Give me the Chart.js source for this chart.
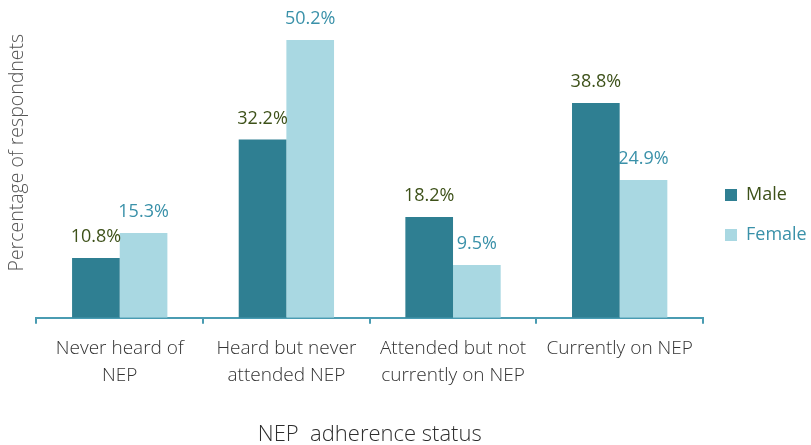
<!DOCTYPE html>
<html>
<head>
<meta charset="utf-8">
<script src="https://cdn.jsdelivr.net/npm/chart.js@4"></script>
<style>
  html, body { margin: 0; padding: 0; background: #fff; }
  #wrap { width: 811px; height: 445px; }
</style>
</head>
<body>
<div id="wrap"><canvas id="nepChart"></canvas></div>
<script>
// Data
const categories = [
    ['Never heard of', 'NEP'],
    ['Heard but never', 'attended NEP'],
    ['Attended but not', 'currently on NEP'],
    ['Currently on NEP']
];
const maleValues = [10.8, 32.2, 18.2, 38.8];
const femaleValues = [15.3, 50.2, 9.5, 24.9];
const seriesNames = ['Male', 'Female'];

const MALE_COLOR = '#2f7f92';
const FEMALE_COLOR = '#a9d8e2';
const MALE_TEXT = '#3d5119';
const FEMALE_TEXT = '#3a91a9';
const AXIS_COLOR = '#4a9cb2';
const FONT = "'Open Sans', 'Noto Sans', sans-serif";

// Value labels above each bar, coloured per series
const valueLabels = {
    id: 'valueLabels',
    afterDatasetsDraw(chart) {
        const ctx = chart.ctx;
        ctx.save();
        ctx.font = '400 18px ' + FONT;
        ctx.textAlign = 'center';
        ctx.textBaseline = 'alphabetic';
        chart.data.datasets.forEach((ds, i) => {
            const meta = chart.getDatasetMeta(i);
            ctx.fillStyle = ds.labelColor;
            meta.data.forEach((bar, j) => {
                ctx.fillText(ds.data[j].toFixed(1) + '%', bar.x, bar.y - 16);
            });
        });
        ctx.restore();
    }
};

new Chart(document.getElementById('nepChart'), {
    type: 'bar',
    data: {
        labels: categories,
        datasets: [
            {
                label: seriesNames[0],
                data: maleValues,
                backgroundColor: MALE_COLOR,
                labelColor: MALE_TEXT,
                barPercentage: 1,
                categoryPercentage: 0.572
            },
            {
                label: seriesNames[1],
                data: femaleValues,
                backgroundColor: FEMALE_COLOR,
                labelColor: FEMALE_TEXT,
                barPercentage: 1,
                categoryPercentage: 0.572
            }
        ]
    },
    options: {
        responsive: true,
        maintainAspectRatio: false,
        animation: false,
        // bottom padding lifts the legend centre; the x title is pushed back down below
        layout: { padding: { top: 8, left: 6, right: 0, bottom: 23 } },
        plugins: {
            tooltip: { enabled: false },
            legend: {
                position: 'right',
                maxWidth: 108,
                labels: {
                    boxWidth: 12,
                    boxHeight: 12,
                    padding: 22,
                    font: { family: FONT, size: 18, weight: '400' },
                    generateLabels(chart) {
                        return chart.data.datasets.map((ds, i) => ({
                            text: ds.label,
                            fillStyle: ds.backgroundColor,
                            strokeStyle: ds.backgroundColor,
                            lineWidth: 0,
                            fontColor: ds.labelColor,
                            datasetIndex: i,
                            hidden: false
                        }));
                    }
                }
            }
        },
        scales: {
            x: {
                border: { display: true, color: AXIS_COLOR, width: 2 },
                grid: {
                    display: true,
                    drawOnChartArea: false,
                    drawTicks: true,
                    tickLength: 6,
                    color: AXIS_COLOR,
                    lineWidth: 2,
                    offset: true
                },
                ticks: {
                    color: '#333',
                    padding: 11,
                    maxRotation: 0,
                    autoSkip: false,
                    font: { family: FONT, size: 19, weight: '300', lineHeight: 1.42 }
                },
                title: {
                    display: true,
                    text: 'NEP  adherence status',
                    color: '#2e2e2e',
                    padding: { top: 22, bottom: -26 },
                    font: { family: FONT, size: 22, weight: '300', lineHeight: 1.2 }
                }
            },
            y: {
                min: 0,
                max: 56,
                border: { display: false },
                grid: { display: false, drawTicks: false },
                ticks: { display: false },
                title: {
                    display: true,
                    // leading spaces nudge the rotated title up a little
                    text: '    Percentage of respondnets',
                    color: '#555',
                    padding: { top: 0, bottom: 7 },
                    font: { family: FONT, size: 19.5, weight: '300', lineHeight: 1.2 }
                }
            }
        }
    },
    plugins: [valueLabels]
});
</script>
</body>
</html>
